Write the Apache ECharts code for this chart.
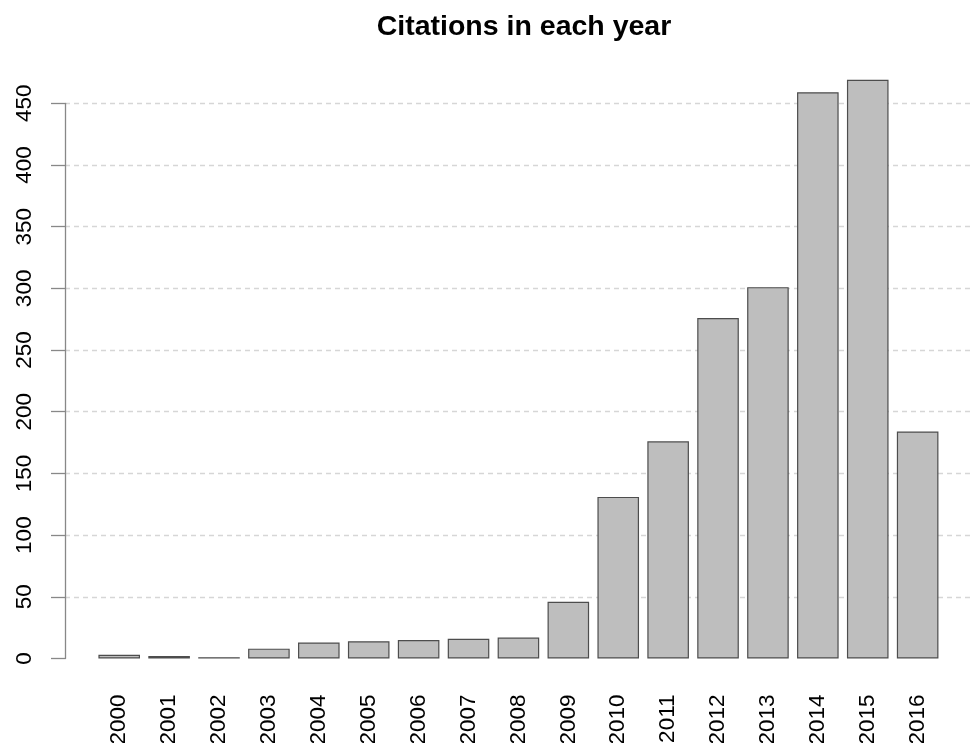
<!DOCTYPE html>
<html>
<head>
<meta charset="utf-8">
<style>html,body{margin:0;padding:0;background:#fff}#c{width:977px;height:743px}</style>
<script src="https://cdn.jsdelivr.net/npm/echarts@6/dist/echarts.min.js"></script>
</head>
<body>
<div id="c"></div>
<script>
const title = "Citations in each year";
const years = ["2000","2001","2002","2003","2004","2005","2006","2007","2008","2009","2010","2011","2012","2013","2014","2015","2016"];
const citations = [3, 2, 1, 8, 13, 14, 15, 16, 17, 46, 131, 176, 276, 301, 459, 469, 184];
const yTicks = [0, 50, 100, 150, 200, 250, 300, 350, 400, 450];

const FONT = "Liberation Sans, Arial, sans-serif";
const chart = echarts.init(document.getElementById('c'), null, {renderer: 'canvas'});
const yMin = yTicks[0], yMax = yTicks[yTicks.length - 1], yStep = yTicks[1] - yTicks[0];
const gridTop = 103.3, gridBottom = 743 - 658.5;

chart.setOption({
  animation: false,
  backgroundColor: '#fff',
  graphic: [{
    type: 'text', x: 524, y: 27.5,
    style: {text: title, align: 'center', verticalAlign: 'middle', fontFamily: FONT, fontWeight: 'bold', fontSize: 28.5, fill: '#000'}
  }],
  grid: [
    {left: 65, right: 5, top: gridTop, bottom: gridBottom, containLabel: false, outerBoundsMode: 'none'},
    {left: 94.25, right: 34.4, top: gridTop, bottom: gridBottom, containLabel: false, outerBoundsMode: 'none'}
  ],
  xAxis: [
    {gridIndex: 0, type: 'value', min: 0, max: 1, show: false},
    {gridIndex: 1, type: 'category', data: years,
     axisLine: {show: false}, axisTick: {show: false},
     axisLabel: {rotate: 90, margin: 36, fontSize: 22.5, fontFamily: FONT, color: '#000', interval: 0}}
  ],
  yAxis: [
    {gridIndex: 0, type: 'value', min: yMin, max: yMax, interval: yStep,
     axisLine: {show: true, lineStyle: {color: '#888', width: 1.3}},
     axisTick: {show: true, length: 14, lineStyle: {color: '#888', width: 1.3}},
     axisLabel: {rotate: 90, margin: 29, fontSize: 22.5, fontFamily: FONT, color: '#000'},
     splitLine: {show: true, showMinLine: false, lineStyle: {color: '#d6d6d6', type: [5, 4], width: 1.3}}},
    {gridIndex: 1, type: 'value', min: yMin, max: yMax, show: false, splitLine: {show: false}}
  ],
  series: [{
    type: 'bar', xAxisIndex: 1, yAxisIndex: 1, data: citations, clip: false,
    barCategoryGap: '16.67%',
    itemStyle: {color: '#bebebe', borderColor: '#4d4d4d', borderWidth: 1.2}
  }]
});
</script>
</body>
</html>
